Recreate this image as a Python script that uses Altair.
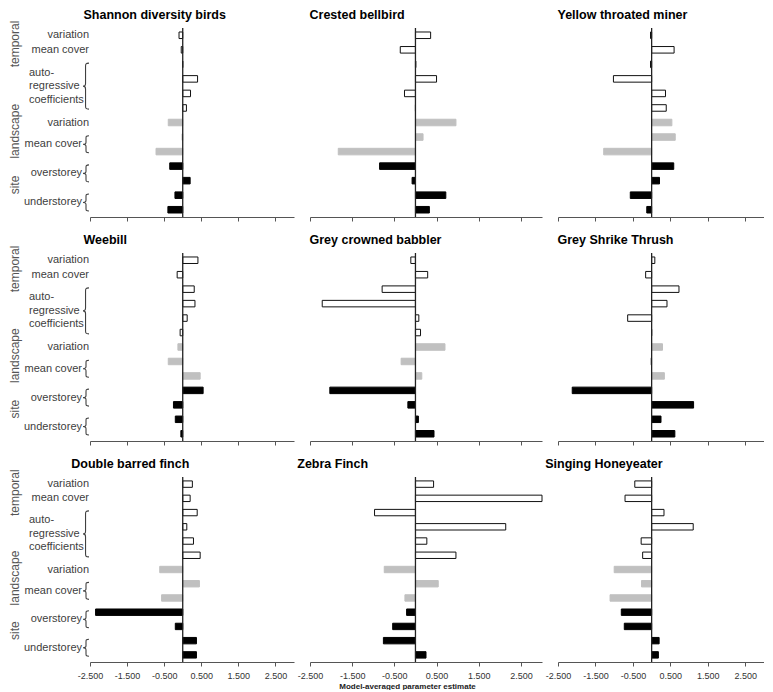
import altair as alt
import pandas as pd

# ---------------- data ----------------
rows = list(range(1, 14))
row_kind = ["temporal"] * 6 + ["landscape"] * 3 + ["site"] * 4
tick_values = [-2.5, -1.5, -0.5, 0.5, 1.5, 2.5]

species = [
    "Shannon diversity birds", "Crested bellbird", "Yellow throated miner",
    "Weebill", "Grey crowned babbler", "Grey Shrike Thrush",
    "Double barred finch", "Zebra Finch", "Singing Honeyeater",
]
shannon = [-0.10, -0.04, 0.00, 0.40, 0.21, 0.10, -0.39, -0.02, -0.72, -0.35, 0.20, -0.21, -0.40]
crested = [0.36, -0.36, 0.01, 0.50, -0.26, 0.00, 0.96, 0.18, -1.83, -0.85, -0.08, 0.72, 0.33]
yellow = [-0.03, 0.60, -0.03, -1.02, 0.37, 0.39, 0.54, 0.63, -1.28, 0.59, 0.21, -0.57, -0.13]
weebill = [0.41, -0.15, 0.31, 0.33, 0.12, -0.07, -0.13, -0.39, 0.47, 0.55, -0.25, -0.20, -0.05]
babbler = [-0.11, 0.29, -0.79, -2.21, 0.08, 0.12, 0.70, -0.34, 0.15, -2.03, -0.18, 0.07, 0.44]
thrush = [0.085, -0.16, 0.73, 0.41, -0.64, 0.00, 0.29, -0.03, 0.34, -2.12, 1.12, 0.25, 0.62]
dbfinch = [0.26, 0.20, 0.39, 0.11, 0.29, 0.47, -0.62, 0.45, -0.57, -2.35, -0.20, 0.37, 0.37]
zebra = [0.43, 3.05, -0.97, 2.14, 0.27, 0.96, -0.74, 0.54, -0.25, -0.21, -0.54, -0.76, 0.25]
honey = [-0.45, -0.71, 0.33, 1.11, -0.28, -0.24, -1.00, -0.27, -1.11, -0.81, -0.73, 0.20, 0.18]
series = [shannon, crested, yellow, weebill, babbler, thrush, dbfinch, zebra, honey]

group_labels = ["temporal", "landscape", "site"]
group_label_pos = [1.6, 7.6, 11.3]
sub_labels = ["variation", "mean cover", "variation"]
sub_label_pos = [1, 2, 7]
brace_labels = ["mean cover", "overstorey", "understorey"]
brace_label_pos = [8.5, 10.5, 12.5]
ar_label = ["auto-\nregressive\ncoefficients"]
ar_label_pos = [4.5]

FONT = "Liberation Sans"
SHORT_BRACE = "M 0.35 -1 C 0 -1 0 -0.9 0 -0.7 L 0 -0.25 C 0 -0.05 -0.15 0 -0.35 0 C -0.15 0 0 0.05 0 0.25 L 0 0.7 C 0 0.9 0 1 0.35 1"
TALL_BRACE = "M 0.13 -1 C -0.02 -1 -0.02 -0.95 -0.02 -0.85 L -0.02 -0.12 C -0.02 -0.03 -0.06 0 -0.13 0 C -0.06 0 -0.02 0.03 -0.02 0.12 L -0.02 0.85 C -0.02 0.95 -0.02 1 0.13 1"

ROW_HEIGHTS = [189, 188, 185]
PANEL_WIDTHS = [204, 232, 206]
LABEL_WIDTH = 64
MINUS = "\u2212"


def label_chart(h):
    yq = alt.Y("pos:Q", scale=alt.Scale(domain=[0.5, 13.5], reverse=True, nice=False, zero=False), axis=None)
    g = alt.Chart(pd.DataFrame({"pos": group_label_pos, "text": group_labels})).mark_text(
        angle=270, font=FONT, fontSize=12, color="#555555", align="center", baseline="middle"
    ).encode(y=yq, x=alt.value(5), text="text:N")
    s = alt.Chart(pd.DataFrame({"pos": sub_label_pos, "text": sub_labels})).mark_text(
        font=FONT, fontSize=11, color="#404040", align="right", baseline="middle"
    ).encode(y=yq, x=alt.value(79), text="text:N")
    b = alt.Chart(pd.DataFrame({"pos": brace_label_pos, "text": brace_labels})).mark_text(
        font=FONT, fontSize=11, color="#404040", align="right", baseline="middle"
    ).encode(y=yq, x=alt.value(72), text="text:N")
    a = alt.Chart(pd.DataFrame({"pos": ar_label_pos, "text": ar_label})).mark_text(
        font=FONT, fontSize=11, color="#404040", align="left", baseline="middle",
        lineBreak="\n", lineHeight=13.5, dy=-13.5
    ).encode(y=yq, x=alt.value(19), text="text:N")
    sb = alt.Chart(pd.DataFrame({"pos": brace_label_pos})).mark_point(
        shape=SHORT_BRACE, size=289, filled=False, opacity=1, stroke="#404040", strokeWidth=1.1
    ).encode(y=yq, x=alt.value(76))
    tb = alt.Chart(pd.DataFrame({"pos": ar_label_pos})).mark_point(
        shape=TALL_BRACE, size=2116, filled=False, opacity=1, stroke="#404040", strokeWidth=1.1
    ).encode(y=yq, x=alt.value(76))
    return alt.layer(g, s, b, a, sb, tb).properties(width=LABEL_WIDTH, height=h)


def panel(name, values, w, h, title_dx, show_labels, axis_title=None):
    df = pd.DataFrame({"row": rows, "value": values, "kind": row_kind})
    axis_kw = dict(
        values=tick_values, labels=show_labels, tickSize=4, grid=False,
        labelExpr="replace(format(datum.value, '.3f'), '" + MINUS + "', '-')",
        domainColor="#555555", tickColor="#555555", labelFontSize=9, labelColor="#333333",
        labelFont=FONT, labelPadding=5, labelFlush=False, labelOverlap=False,
    )
    if axis_title:
        axis_kw.update(title=axis_title, titleFontSize=8, titleFont=FONT, titleFontWeight="bold",
                       titleColor="#222222", titleX=97, titlePadding=2)
    else:
        axis_kw.update(title=None)
    xenc = alt.X("value:Q", scale=alt.Scale(domain=[-2.5, 3.0], nice=False, zero=False, clamp=True),
                 axis=alt.Axis(**axis_kw))
    bars = alt.Chart(df).mark_bar(strokeWidth=1).encode(
        x=xenc,
        x2=alt.datum(0),
        y=alt.Y("row:O", scale=alt.Scale(domain=rows, paddingInner=0.55, paddingOuter=0.275), axis=None),
        fill=alt.Fill("kind:N", scale=alt.Scale(domain=["temporal", "landscape", "site"],
                                                range=["#ffffff", "#c0c0c0", "#000000"]), legend=None),
        stroke=alt.Stroke("kind:N", scale=alt.Scale(domain=["temporal", "landscape", "site"],
                                                    range=["#111111", "#c0c0c0", "#000000"]), legend=None),
    )
    zero = alt.Chart(pd.DataFrame({"value": [0.0]})).mark_rule(color="#222222", strokeWidth=1.3).encode(
        x=alt.X("value:Q")
    )
    return alt.layer(bars, zero).properties(
        width=w, height=h,
        title=alt.TitleParams(name, anchor="start", dx=title_dx, offset=6, fontSize=12.5,
                              font=FONT, fontWeight="bold", color="#000000"),
    )


items = []
for r in range(3):
    h = ROW_HEIGHTS[r]
    items.append(label_chart(h))
    for c in range(3):
        i = r * 3 + c
        items.append(panel(
            species[i], series[i], PANEL_WIDTHS[c], h,
            -6 if c == 0 else 0,
            r == 2,
            "Model-averaged parameter estimate" if (r == 2 and c == 1) else None,
        ))

chart = alt.concat(
    *items, columns=4, spacing={"row": 36, "column": 16}, bounds="flush"
).properties(
    padding={"left": 0, "top": 0, "right": 0, "bottom": 0},
).configure(
    background="#ffffff",
).configure_view(stroke="transparent", strokeWidth=0)

chart.save("out.html", embed_options={"renderer": "svg", "actions": False})
